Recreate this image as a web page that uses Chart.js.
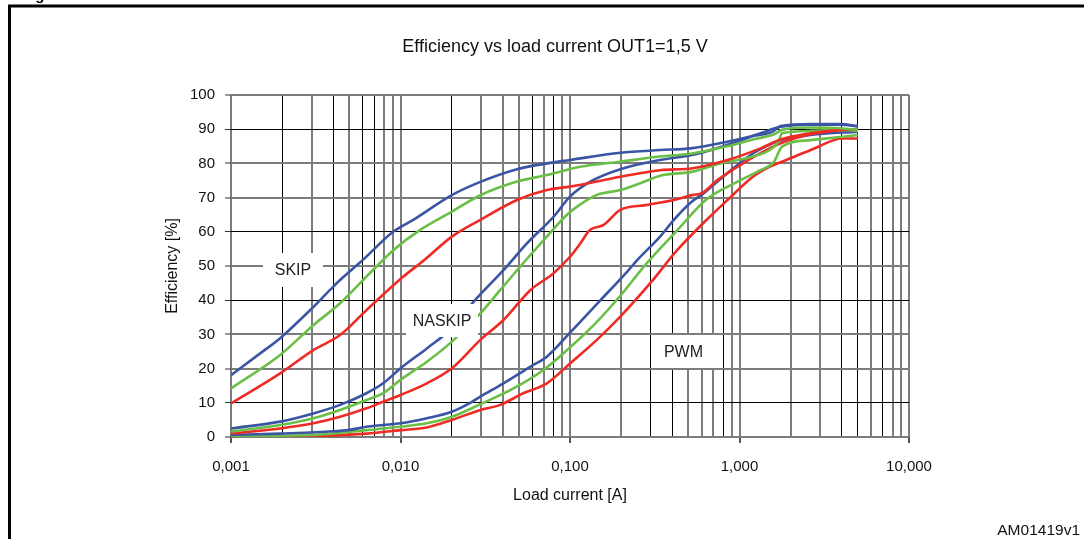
<!DOCTYPE html>
<html>
<head>
<meta charset="utf-8">
<script src="https://cdn.jsdelivr.net/npm/chart.js@4.4.1/dist/chart.umd.min.js"></script>
<style>
html,body{margin:0;padding:0;background:#fff;overflow:hidden}
#wrap{width:1084px;height:539px;position:relative}
canvas{display:block}
</style>
</head>
<body>
<div id="wrap"><canvas id="c" width="1084" height="539"></canvas></div>
<script>
// ---------- DATA ----------
const chartTitle = 'Efficiency vs load current OUT1=1,5 V';
const xAxisTitle = 'Load current [A]';
const yAxisTitle = 'Efficiency [%]';
const docCode = 'AM01419v1';
const modeLabels = ['SKIP', 'NASKIP', 'PWM'];
const yTicks = [0, 10, 20, 30, 40, 50, 60, 70, 80, 90, 100];

// SKIP mode
const skipBlueI  = [0.001, 0.0015, 0.00195, 0.00293, 0.00384, 0.0044, 0.006, 0.00905, 0.0119, 0.0202, 0.0296, 0.0487, 0.0732, 0.1, 0.198, 0.34, 0.514, 0.847, 1.2, 1.57, 1.75, 2.63, 3.95, 5.0];
const skipBlueE  = [18.1, 24.6, 28.9, 37.1, 43.0, 45.9, 51.8, 60.0, 63.5, 70.8, 74.6, 78.3, 80.0, 81.0, 83.1, 83.9, 84.4, 86.3, 88.0, 89.3, 90.9, 91.5, 91.5, 90.9];
const skipGreenI = [0.001, 0.00195, 0.00306, 0.0044, 0.0063, 0.0091, 0.013, 0.0201, 0.0296, 0.0487, 0.073, 0.115, 0.198, 0.34, 0.514, 0.847, 1.2, 1.6, 1.78, 2.63, 3.95, 5.0];
const skipGreenE = [14.2, 24.0, 32.7, 39.1, 46.9, 54.7, 60.5, 65.9, 70.7, 74.7, 76.6, 79.0, 80.5, 82.0, 82.8, 85.0, 87.0, 88.5, 89.8, 90.5, 90.3, 89.8];
const skipRedI   = [0.001, 0.00195, 0.00306, 0.0044, 0.0063, 0.01, 0.014, 0.0201, 0.0296, 0.0487, 0.073, 0.1, 0.198, 0.34, 0.53, 0.85, 1.33, 1.75, 2.63, 3.95, 5.0];
const skipRedE   = [9.8, 18.6, 25.4, 29.8, 37.1, 46.2, 52.0, 58.6, 63.5, 69.3, 72.2, 73.2, 76.1, 78.0, 78.6, 81.0, 84.4, 87.0, 88.8, 89.8, 90.0];

// NASKIP mode
const naskipBlueI  = [0.001, 0.00195, 0.00306, 0.0044, 0.0063, 0.0079, 0.01, 0.0143, 0.0201, 0.0276, 0.0405, 0.0557, 0.08, 0.1, 0.131, 0.198, 0.34, 0.53, 0.847, 1.33, 1.75, 2.63, 3.95, 5.0];
const naskipBlueE  = [2.5, 4.5, 6.9, 9.4, 12.8, 15.7, 20.1, 25.9, 31.8, 40.1, 48.8, 56.6, 64.4, 70.3, 74.6, 78.3, 81.0, 82.5, 85.4, 88.8, 90.7, 91.3, 91.3, 90.8];
const naskipGreenI = [0.001, 0.00195, 0.00306, 0.0044, 0.0063, 0.0079, 0.01, 0.0143, 0.0201, 0.0255, 0.029, 0.0388, 0.0529, 0.073, 0.096, 0.115, 0.144, 0.198, 0.26, 0.34, 0.53, 0.77, 1.2, 1.5, 1.7, 1.78, 2.63, 3.95, 5.0];
const naskipGreenE = [1.6, 3.5, 5.5, 7.9, 10.8, 12.8, 16.7, 22.0, 27.9, 33.2, 35.7, 43.0, 50.8, 58.6, 65.0, 68.0, 70.8, 72.2, 74.2, 76.4, 77.6, 80.0, 82.0, 83.9, 86.4, 88.8, 89.5, 89.8, 89.5];
const naskipRedI   = [0.001, 0.00195, 0.00306, 0.0044, 0.0063, 0.0079, 0.01, 0.0143, 0.0201, 0.0296, 0.0405, 0.0585, 0.08, 0.1, 0.115, 0.131, 0.158, 0.198, 0.28, 0.41, 0.53, 0.6, 0.74, 0.97, 1.33, 1.75, 2.63, 3.95, 5.0];
const naskipRedE   = [1.0, 2.5, 4.0, 5.9, 8.4, 10.3, 12.3, 15.7, 20.1, 28.4, 34.2, 43.0, 47.9, 52.7, 56.6, 60.5, 62.0, 66.4, 67.8, 69.3, 70.8, 71.3, 75.1, 79.0, 83.0, 85.9, 88.5, 89.7, 90.0];

// PWM mode
const pwmBlueI  = [0.001, 0.00195, 0.0038, 0.0049, 0.0063, 0.0079, 0.01, 0.0143, 0.0201, 0.025, 0.0296, 0.0405, 0.0585, 0.073, 0.1, 0.15, 0.217, 0.25, 0.34, 0.41, 0.514, 0.616, 0.847, 1.2, 1.75, 2.63, 5.0];
const pwmBlueE  = [0.6, 1.0, 1.6, 2.0, 3.0, 3.5, 4.0, 5.5, 7.4, 9.6, 11.8, 15.7, 20.6, 23.5, 30.5, 39.8, 48.3, 51.8, 58.6, 63.5, 68.5, 71.3, 77.1, 82.9, 86.8, 88.3, 89.3];
const pwmGreenI = [0.001, 0.00306, 0.0063, 0.01, 0.0143, 0.0201, 0.0296, 0.0464, 0.0697, 0.096, 0.138, 0.198, 0.28, 0.43, 0.64, 0.97, 1.33, 1.6, 1.78, 2.63, 5.0];
const pwmGreenE = [0.3, 0.6, 2.0, 3.0, 4.0, 5.9, 9.6, 14.2, 19.6, 25.4, 32.7, 41.3, 50.5, 60.5, 69.5, 74.6, 78.0, 80.5, 84.9, 86.8, 88.3];
const pwmRedI   = [0.001, 0.00306, 0.0063, 0.01, 0.0143, 0.0201, 0.0296, 0.0388, 0.053, 0.073, 0.1, 0.144, 0.198, 0.3, 0.43, 0.61, 0.85, 1.2, 1.5, 1.78, 2.63, 3.6, 3.95, 5.0];
const pwmRedE   = [0.0, 0.3, 1.0, 2.0, 2.8, 5.0, 7.9, 9.4, 12.8, 15.7, 21.5, 28.4, 35.2, 45.2, 54.7, 62.5, 69.3, 76.1, 79.0, 80.5, 83.9, 86.8, 87.3, 87.3];

// ---------- STYLE ----------
const BLUE = '#3b55a5', GREEN = '#6abf47', RED = '#ee2b24';
const FONT = '"Liberation Sans", Arial, Helvetica, sans-serif';
const xBlackLines = [0.002, 0.004, 0.006, 0.007, 0.02, 0.06, 0.08, 0.3, 0.4, 0.8, 4, 5, 7];
const yBlackLines = [10, 40, 60, 90];

function pts(I, E) { return I.map((x, i) => ({ x: x, y: E[i] })); }
function ds(label, I, E, color) {
  return { label, data: pts(I, E), borderColor: color, backgroundColor: color,
           borderWidth: 2.6, pointRadius: 0, fill: false, cubicInterpolationMode: 'monotone' };
}
function near(list, v) { return list.some(b => Math.abs(b - v) / b < 1e-6); }
function isDecade(v) { const l = Math.log10(v); return Math.abs(l - Math.round(l)) < 1e-6; }

const xTickValues = [];
for (let e = -3; e <= 0; e++) for (let m = 1; m <= 9; m++) xTickValues.push(Number((m * Math.pow(10, e)).toPrecision(6)));
xTickValues.push(10);

const deco = {
  id: 'deco',
  beforeDraw(chart) {
    const c = chart.ctx;
    c.save();
    c.fillStyle = '#fff';
    c.fillRect(0, 0, chart.width, chart.height);
    c.strokeStyle = '#000';
    c.lineWidth = 3;
    c.beginPath();
    c.moveTo(9.5, 560); c.lineTo(9.5, 6); c.lineTo(1100, 6);
    c.stroke();
    c.fillStyle = '#000';
    c.font = 'bold 15px ' + FONT;
    c.textAlign = 'left'; c.textBaseline = 'alphabetic';
    c.fillText('Figure', 22, -0.5);
    c.fillStyle = '#111';
    c.font = '18px ' + FONT;
    c.textAlign = 'center'; c.textBaseline = 'middle';
    c.fillText(chartTitle, 555, 47);
    c.font = '15.5px ' + FONT;
    c.textAlign = 'right';
    c.fillText(docCode, 1080, 531);
    c.restore();
  },
  afterDatasetsDraw(chart) {
    const c = chart.ctx;
    const boxes = [
      { t: modeLabels[0], x0: 263, y0: 253, x1: 323, y1: 287 },
      { t: modeLabels[1], x0: 406, y0: 304, x1: 478, y1: 337 },
      { t: modeLabels[2], x0: 652, y0: 335, x1: 715, y1: 368 }
    ];
    c.save();
    c.font = '16px ' + FONT;
    c.textAlign = 'center'; c.textBaseline = 'middle';
    boxes.forEach(b => {
      c.fillStyle = '#fff';
      c.fillRect(b.x0, b.y0, b.x1 - b.x0, b.y1 - b.y0);
      c.fillStyle = '#222';
      c.fillText(b.t, (b.x0 + b.x1) / 2, (b.y0 + b.y1) / 2 + 1);
    });
    c.restore();
  }
};

Chart.defaults.font.family = FONT;
Chart.defaults.font.size = 15;
Chart.defaults.color = '#111';

new Chart(document.getElementById('c'), {
  type: 'line',
  data: {
    datasets: [
      ds('SKIP blue', skipBlueI, skipBlueE, BLUE),
      ds('SKIP green', skipGreenI, skipGreenE, GREEN),
      ds('SKIP red', skipRedI, skipRedE, RED),
      ds('NASKIP blue', naskipBlueI, naskipBlueE, BLUE),
      ds('NASKIP green', naskipGreenI, naskipGreenE, GREEN),
      ds('NASKIP red', naskipRedI, naskipRedE, RED),
      ds('PWM blue', pwmBlueI, pwmBlueE, BLUE),
      ds('PWM green', pwmGreenI, pwmGreenE, GREEN),
      ds('PWM red', pwmRedI, pwmRedE, RED)
    ]
  },
  options: {
    responsive: false,
    animation: false,
    devicePixelRatio: 1,
    layout: { padding: { left: 159, right: 175, top: 95, bottom: 30 } },
    plugins: { legend: { display: false }, tooltip: { enabled: false }, title: { display: false } },
    scales: {
      x: {
        type: 'logarithmic',
        min: 0.001, max: 10,
        afterBuildTicks: (s) => { s.ticks = xTickValues.map(v => ({ value: v })); },
        afterFit: (s) => { s.height = 72; },
        border: { display: false },
        grid: {
          color: (ctx) => near(xBlackLines, ctx.tick.value) ? '#000' : '#7c7c7c',
          lineWidth: (ctx) => near(xBlackLines, ctx.tick.value) ? 1 : 2,
          tickColor: (ctx) => isDecade(ctx.tick.value) ? '#555' : 'rgba(0,0,0,0)',
          tickWidth: 2,
          tickLength: 6
        },
        ticks: {
          autoSkip: false, maxRotation: 0, minRotation: 0, padding: 15, color: '#111',
          callback: (v) => isDecade(v) ? Number(v).toFixed(3).replace('.', ',') : ''
        },
        title: { display: true, text: xAxisTitle, color: '#111', font: { size: 16 }, padding: { top: 4, bottom: 4 } }
      },
      y: {
        type: 'linear',
        min: 0, max: 100,
        afterBuildTicks: (s) => { s.ticks = yTicks.map(v => ({ value: v })); },
        afterFit: (s) => { s.width = 72; },
        border: { display: false },
        grid: {
          color: (ctx) => near(yBlackLines, ctx.tick.value) ? '#000' : '#7c7c7c',
          lineWidth: (ctx) => near(yBlackLines, ctx.tick.value) ? 1 : 2,
          tickColor: '#333',
          tickWidth: 1,
          tickLength: 6
        },
        ticks: { padding: 10, color: '#111', callback: (v) => String(v) },
        title: { display: true, text: yAxisTitle, color: '#111', font: { size: 16 }, padding: { top: 4, bottom: 4 } }
      }
    }
  },
  plugins: [deco]
});
</script>
</body>
</html>
